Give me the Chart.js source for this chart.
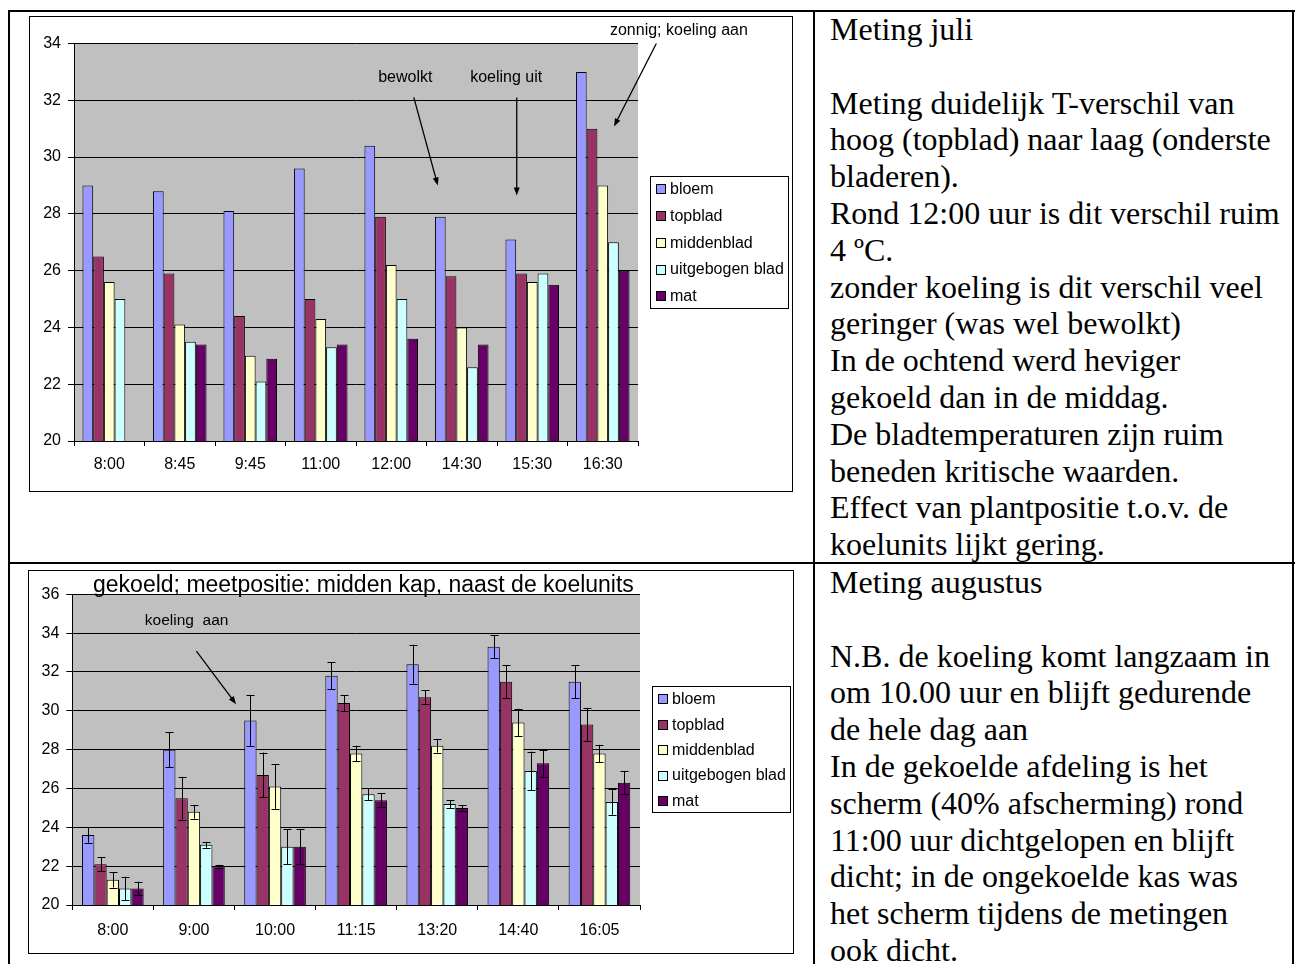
<!DOCTYPE html>
<html>
<head>
<meta charset="utf-8">
<script src="https://cdn.jsdelivr.net/npm/chart.js@4/dist/chart.umd.min.js"></script>
<style>
  body { margin: 0; background: #fff; width: 1295px; height: 964px; overflow: hidden; position: relative; }
  .rule { position: absolute; background: #000; }
  .frame { position: absolute; border: 1px solid #000; box-sizing: border-box; background: #fff; }
  .frame canvas { position: absolute; left: 0; top: 0; }
  .note { position: absolute; left: 830px; font-family: "Liberation Serif", "Times New Roman", serif;
          font-size: 32px; line-height: 36.8px; white-space: pre; color: #000; }
</style>
</head>
<body>
<!-- table rules -->
<div class="rule" style="left:8px;top:10px;width:1287px;height:2px"></div>
<div class="rule" style="left:8px;top:10px;width:2px;height:954px"></div>
<div class="rule" style="left:813px;top:10px;width:2px;height:954px"></div>
<div class="rule" style="left:1292px;top:10px;width:2px;height:954px"></div>
<div class="rule" style="left:8px;top:562px;width:1287px;height:2px"></div>

<div class="frame" style="left:29px;top:16px;width:764px;height:476px">
  <canvas id="julChart" width="762" height="474"></canvas>
</div>
<div class="frame" style="left:28px;top:570px;width:766px;height:384px">
  <canvas id="augChart" width="764" height="382"></canvas>
</div>

<div class="note" style="top:11px">Meting juli

Meting duidelijk T-verschil van
hoog (topblad) naar laag (onderste
bladeren).
Rond 12:00 uur is dit verschil ruim
4 ºC.
zonder koeling is dit verschil veel
geringer (was wel bewolkt)
In de ochtend werd heviger
gekoeld dan in de middag.
De bladtemperaturen zijn ruim
beneden kritische waarden.
Effect van plantpositie t.o.v. de
koelunits lijkt gering.</div>

<div class="note" style="top:564px">Meting augustus

N.B. de koeling komt langzaam in
om 10.00 uur en blijft gedurende
de hele dag aan
In de gekoelde afdeling is het
scherm (40% afscherming) rond
11:00 uur dichtgelopen en blijft
dicht; in de ongekoelde kas was
het scherm tijdens de metingen
ook dicht.</div>

<script>
// series shared by both charts
const seriesNames = ['bloem', 'topblad', 'middenblad', 'uitgebogen blad', 'mat'];
const seriesColors = ['#9999FF', '#993366', '#FFFFCC', '#CCFFFF', '#660066'];

// July measurement (°C)
const julTimes = ['8:00', '8:45', '9:45', '11:00', '12:00', '14:30', '15:30', '16:30'];
const julBloem = [29.0, 28.8, 28.1, 29.6, 30.4, 27.9, 27.1, 33.0];
const julTopblad = [26.5, 25.9, 24.4, 25.0, 27.9, 25.8, 25.9, 31.0];
const julMiddenblad = [25.6, 24.1, 23.0, 24.3, 26.2, 24.0, 25.6, 29.0];
const julUitgebogen = [25.0, 23.5, 22.1, 23.3, 25.0, 22.6, 25.9, 27.0];
const julMat = [null, 23.4, 22.9, 23.4, 23.6, 23.4, 25.5, 26.0];

// August measurement (°C) with error margins
const augTimes = ['8:00', '9:00', '10:00', '11:15', '13:20', '14:40', '16:05'];
const augBloem = [23.6, 28.0, 29.5, 31.8, 32.4, 33.3, 31.5];
const augBloemErr = [0.4, 0.9, 1.3, 0.7, 1.0, 0.6, 0.85];
const augTopblad = [22.1, 25.5, 26.7, 30.4, 30.7, 31.5, 29.3];
const augTopbladErr = [0.35, 1.1, 1.15, 0.4, 0.35, 0.85, 0.85];
const augMiddenblad = [21.3, 24.8, 26.1, 27.8, 28.2, 29.4, 27.8];
const augMiddenbladErr = [0.4, 0.35, 1.15, 0.4, 0.35, 0.7, 0.45];
const augUitgebogen = [20.85, 23.1, 23.0, 25.7, 25.2, 26.9, 25.3];
const augUitgebogenErr = [0.6, 0.15, 0.9, 0.3, 0.2, 1.0, 0.65];
const augMat = [20.85, 22.0, 23.0, 25.4, 25.0, 27.3, 26.3];
const augMatErr = [0.35, 0.07, 0.9, 0.35, 0.15, 0.7, 0.6];

const sansFont = '"Liberation Sans", Arial, sans-serif';

// grey plot area like the spreadsheet default
const plotBackground = {
  id: 'plotBackground',
  beforeDraw(chart) {
    const { ctx, chartArea: a } = chart;
    ctx.save();
    ctx.fillStyle = '#C0C0C0';
    ctx.fillRect(a.left, a.top, a.right - a.left, a.bottom - a.top);
    ctx.restore();
  }
};

// vertical error bars with caps, taken from dataset.errors
const errorBars = {
  id: 'errorBars',
  afterDatasetsDraw(chart) {
    const { ctx } = chart;
    const y = chart.scales.y;
    ctx.save();
    ctx.strokeStyle = '#000';
    ctx.lineWidth = 1;
    chart.data.datasets.forEach((ds, i) => {
      if (!ds.errors) return;
      chart.getDatasetMeta(i).data.forEach((bar, j) => {
        const v = ds.data[j], e = ds.errors[j];
        if (v == null || e == null) return;
        const x = Math.round(bar.x) + 0.5;
        const top = y.getPixelForValue(v + e), bot = y.getPixelForValue(v - e);
        ctx.beginPath();
        ctx.moveTo(x, top); ctx.lineTo(x, bot);
        ctx.moveTo(x - 4, Math.round(top) + 0.5); ctx.lineTo(x + 4, Math.round(top) + 0.5);
        ctx.moveTo(x - 4, Math.round(bot) + 0.5); ctx.lineTo(x + 4, Math.round(bot) + 0.5);
        ctx.stroke();
      });
    });
    ctx.restore();
  }
};

// framed legend to the right of the plot
const boxLegend = {
  id: 'boxLegend',
  afterDraw(chart, args, o) {
    const { ctx, chartArea: a } = chart;
    const sets = chart.data.datasets;
    const mid = (a.top + a.bottom) / 2;
    const first = mid - (sets.length - 1) * o.rowHeight / 2;
    const last = first + (sets.length - 1) * o.rowHeight;
    const left = Math.round(a.right + 12) + 0.5;
    const top = Math.round(first - 13) + 0.5;
    ctx.save();
    ctx.fillStyle = '#fff';
    ctx.strokeStyle = '#000';
    ctx.lineWidth = 1;
    ctx.fillRect(left, top, 138, Math.round(last + 12) - top + 0.5);
    ctx.strokeRect(left, top, 138, Math.round(last + 12) - top + 0.5);
    ctx.font = '16px ' + sansFont;
    ctx.textBaseline = 'middle';
    sets.forEach((ds, i) => {
      const cy = first + i * o.rowHeight;
      const bx = Math.round(a.right + 18) + 0.5, by = Math.round(cy - 4.5) + 0.5;
      ctx.fillStyle = ds.backgroundColor;
      ctx.fillRect(bx, by, 9, 9);
      ctx.strokeRect(bx, by, 9, 9);
      ctx.fillStyle = '#000';
      ctx.fillText(ds.label, a.right + 32, cy + 1);
    });
    ctx.restore();
  }
};

// text notes and arrows placed in data space (x = category index, y = °C)
const notes = {
  id: 'notes',
  afterDraw(chart, args, o) {
    const { ctx } = chart;
    const sx = chart.scales.x, sy = chart.scales.y;
    const px = (p) => [sx.getPixelForValue(p[0]), sy.getPixelForValue(p[1])];
    ctx.save();
    ctx.fillStyle = '#000';
    ctx.strokeStyle = '#000';
    o.items.forEach((n) => {
      if (n.text) {
        ctx.font = n.size + 'px ' + sansFont;
        ctx.textAlign = 'center';
        ctx.textBaseline = 'middle';
        const [tx, ty] = px(n.at);
        ctx.fillText(n.text, tx, ty);
      }
      if (n.from) {
        const [x0, y0] = px(n.from), [x1, y1] = px(n.to);
        const ang = Math.atan2(y1 - y0, x1 - x0);
        ctx.lineWidth = 1.3;
        ctx.beginPath();
        ctx.moveTo(x0, y0);
        ctx.lineTo(x1 - 6 * Math.cos(ang), y1 - 6 * Math.sin(ang));
        ctx.stroke();
        ctx.beginPath();
        ctx.moveTo(x1, y1);
        ctx.lineTo(x1 - 8 * Math.cos(ang) + 3 * Math.sin(ang), y1 - 8 * Math.sin(ang) - 3 * Math.cos(ang));
        ctx.lineTo(x1 - 8 * Math.cos(ang) - 3 * Math.sin(ang), y1 - 8 * Math.sin(ang) + 3 * Math.cos(ang));
        ctx.closePath();
        ctx.fill();
      }
    });
    ctx.restore();
  }
};

function buildChart(id, labels, values, errors, cfg) {
  const datasets = seriesNames.map((name, i) => ({
    label: name,
    data: values[i],
    errors: errors ? errors[i] : null,
    backgroundColor: seriesColors[i],
    borderColor: '#000',
    borderWidth: 1,
    borderSkipped: false,
    categoryPercentage: 0.76,
    barPercentage: 1
  }));
  const tickFont = { family: sansFont, size: 16 };
  return new Chart(document.getElementById(id), {
    type: 'bar',
    data: { labels, datasets },
    options: {
      responsive: false,
      animation: false,
      devicePixelRatio: 1,
      layout: { padding: { top: cfg.top, right: cfg.right, left: 0, bottom: 0 } },
      plugins: {
        legend: { display: false },
        tooltip: { enabled: false },
        boxLegend: { rowHeight: cfg.rowHeight },
        notes: { items: cfg.notes }
      },
      scales: {
        x: {
          grid: { offset: true, drawOnChartArea: false, color: '#000', tickLength: 5 },
          border: { color: '#000' },
          ticks: { color: '#000', font: tickFont, padding: cfg.xPad, maxRotation: 0, autoSkip: false },
          afterFit(s) { s.height = cfg.xHeight; }
        },
        y: {
          min: 20,
          max: cfg.yMax,
          ticks: { stepSize: 2, color: '#000', font: tickFont, padding: 7 },
          grid: { color: '#000', tickLength: 6 },
          border: { color: '#000' },
          afterFit(s) { s.width = cfg.yWidth; }
        }
      }
    },
    plugins: [plotBackground, errorBars, boxLegend, notes]
  });
}

buildChart('julChart', julTimes,
  [julBloem, julTopblad, julMiddenblad, julUitgebogen, julMat], null,
  {
    top: 26.5, right: 154, yWidth: 44, xHeight: 50, xPad: 9, yMax: 34, rowHeight: 26.75,
    notes: [
      { text: 'zonnig; koeling aan', size: 16, at: [8.08, 34.47] },
      { from: [7.76, 34.0], to: [7.16, 31.08] },
      { text: 'bewolkt', size: 16, at: [4.2, 32.81] },
      { from: [4.32, 32.1], to: [4.66, 29.0] },
      { text: 'koeling uit', size: 16, at: [5.63, 32.81] },
      { from: [5.78, 32.1], to: [5.78, 28.65] }
    ]
  });

buildChart('augChart', augTimes,
  [augBloem, augTopblad, augMiddenblad, augUitgebogen, augMat],
  [augBloemErr, augTopbladErr, augMiddenbladErr, augUitgebogenErr, augMatErr],
  {
    top: 23.3, right: 153, yWidth: 43.3, xHeight: 48, xPad: 11, yMax: 36, rowHeight: 25.4,
    notes: [
      { text: 'gekoeld; meetpositie: midden kap, naast de koelunits', size: 23, at: [3.09, 36.43] },
      { text: 'koeling  aan', size: 15.5, at: [0.91, 34.62] },
      { from: [1.03, 33.07], to: [1.52, 30.34] }
    ]
  });
</script>
</body>
</html>
